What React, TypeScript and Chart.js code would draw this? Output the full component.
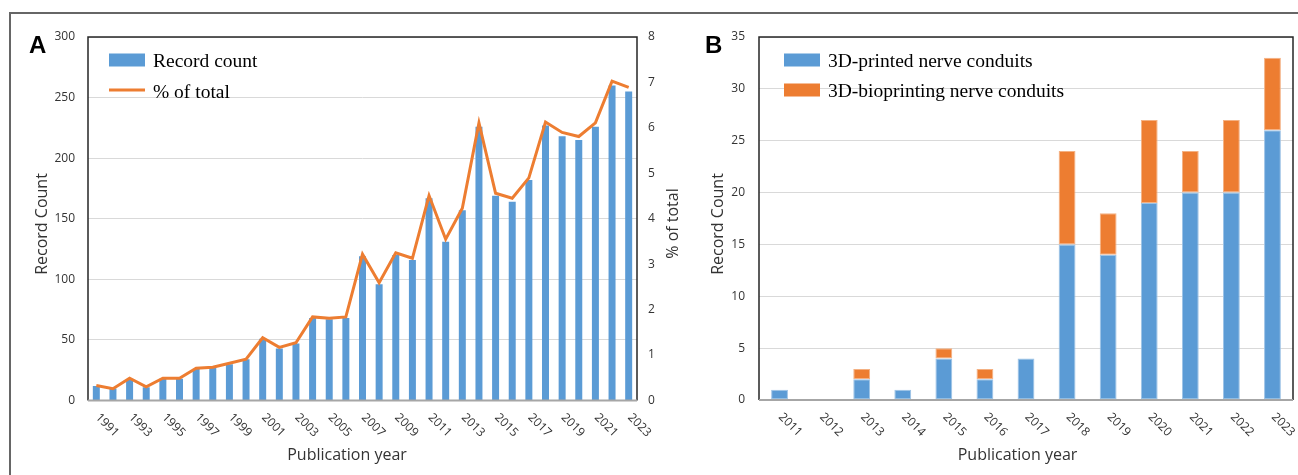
import React, { useEffect, useRef } from 'react';
import { Chart, registerables } from 'chart.js';

Chart.register(...registerables);

// ---------- Panel A data ----------
const yearsA = [
  '1991', '1992', '1993', '1994', '1995', '1996', '1997', '1998', '1999', '2000',
  '2001', '2002', '2003', '2004', '2005', '2006', '2007', '2008', '2009', '2010',
  '2011', '2012', '2013', '2014', '2015', '2016', '2017', '2018', '2019', '2020',
  '2021', '2022', '2023',
];
const recordCount = [
  12, 10, 17, 11, 18, 18, 26, 27, 30, 34,
  51, 43, 47, 68, 67, 68, 119, 96, 120, 116,
  167, 131, 157, 226, 169, 164, 182, 227, 218, 215,
  226, 260, 255,
];
const percentTotal = [
  0.33, 0.26, 0.49, 0.3, 0.49, 0.49, 0.71, 0.73, 0.82, 0.91,
  1.38, 1.17, 1.27, 1.84, 1.81, 1.84, 3.22, 2.59, 3.25, 3.13,
  4.51, 3.55, 4.23, 6.11, 4.56, 4.45, 4.9, 6.13, 5.9, 5.81,
  6.11, 7.03, 6.89,
];
const xTickLabelsA = [
  '1991', '1993', '1995', '1997', '1999', '2001', '2003', '2005', '2007',
  '2009', '2011', '2013', '2015', '2017', '2019', '2021', '2023',
];

// ---------- Panel B data ----------
const yearsB = ['2011', '2012', '2013', '2014', '2015', '2016', '2017', '2018', '2019', '2020', '2021', '2022', '2023'];
const printedConduits = [1, 0, 2, 1, 4, 2, 4, 15, 14, 19, 20, 20, 26];
const bioprintingConduits = [0, 0, 1, 0, 1, 1, 0, 9, 4, 8, 4, 7, 7];
const xTickLabelsB = yearsB;

const BLUE = '#5B9BD5';
const ORANGE = '#ED7D31';
const TEXT = '#333333';
const SANS = '"Open Sans", "Noto Sans", sans-serif';
const SERIF = '"Liberation Serif", "Times New Roman", serif';

type OverlayCfg = {
  id: string;
  letter: string;
  letterX: number;
  labels: string[];
  tickLabels: string[];
  yTitleX: number;
  y2TitleX?: number;
  xTitleX: number;
  legend: { kind: 'box' | 'line'; color: string; text: string; y: number; baseline: number }[];
  legendX: number;
};

function makeOverlay(cfg: OverlayCfg) {
  return {
    id: cfg.id,
    afterDraw(chart: any) {
      const { ctx, chartArea: a, scales } = chart;
      ctx.save();
      // plot frame
      ctx.strokeStyle = '#262626';
      ctx.lineWidth = 1.5;
      ctx.beginPath();
      ctx.moveTo(a.left, a.bottom);
      ctx.lineTo(a.left, a.top);
      ctx.lineTo(a.right, a.top);
      ctx.lineTo(a.right, a.bottom);
      ctx.stroke();
      ctx.strokeStyle = '#a6a6a6';
      ctx.lineWidth = 2;
      ctx.beginPath();
      ctx.moveTo(a.left, a.bottom);
      ctx.lineTo(a.right, a.bottom);
      ctx.stroke();

      // x tick labels, rotated clockwise
      ctx.fillStyle = TEXT;
      ctx.font = `12px ${SANS}`;
      ctx.textAlign = 'left';
      ctx.textBaseline = 'middle';
      const xs = scales.x;
      cfg.tickLabels.forEach((lab) => {
        const idx = cfg.labels.indexOf(lab);
        if (idx < 0) return;
        const px = xs.getPixelForValue(idx);
        ctx.save();
        ctx.translate(px + 1, a.bottom + 15);
        ctx.rotate(Math.PI / 4);
        ctx.fillText(lab, 0, 0);
        ctx.restore();
      });

      // axis titles
      ctx.font = `16px ${SANS}`;
      ctx.textAlign = 'center';
      ctx.textBaseline = 'alphabetic';
      ctx.fillText('Publication year', cfg.xTitleX, 460);
      const midY = 224;
      ctx.save();
      ctx.translate(cfg.yTitleX, midY);
      ctx.rotate(-Math.PI / 2);
      ctx.fillText('Record Count', 0, 0);
      ctx.restore();
      if (cfg.y2TitleX !== undefined) {
        ctx.save();
        ctx.translate(cfg.y2TitleX, 223.5);
        ctx.rotate(-Math.PI / 2);
        ctx.fillText('% of total', 0, 0);
        ctx.restore();
      }

      // legend
      ctx.textAlign = 'left';
      ctx.font = `19.5px ${SERIF}`;
      cfg.legend.forEach((item) => {
        if (item.kind === 'box') {
          ctx.fillStyle = item.color;
          ctx.fillRect(cfg.legendX, item.y - 6.5, 36, 13);
        } else {
          ctx.strokeStyle = item.color;
          ctx.lineWidth = 3;
          ctx.beginPath();
          ctx.moveTo(cfg.legendX, item.y);
          ctx.lineTo(cfg.legendX + 36, item.y);
          ctx.stroke();
        }
        ctx.fillStyle = '#000';
        ctx.fillText(item.text, cfg.legendX + 44, item.baseline);
      });

      // panel letter
      ctx.fillStyle = '#000';
      ctx.font = `bold 24px "Liberation Sans", Arial, sans-serif`;
      ctx.fillText(cfg.letter, cfg.letterX, 53);
      ctx.restore();
    },
  };
}

const tickFont = { family: SANS, size: 12 };

export default function App() {
  const refA = useRef<HTMLCanvasElement>(null);
  const refB = useRef<HTMLCanvasElement>(null);

  useEffect(() => {
    const chartA = new Chart(refA.current as HTMLCanvasElement, {
      type: 'bar',
      data: {
        labels: yearsA,
        datasets: [
          {
            type: 'line',
            label: '% of total',
            data: percentTotal,
            yAxisID: 'y1',
            borderColor: ORANGE,
            borderWidth: 3,
            pointRadius: 0,
            tension: 0,
            fill: false,
            order: 0,
          } as any,
          {
            type: 'bar',
            label: 'Record count',
            data: recordCount,
            yAxisID: 'y',
            backgroundColor: BLUE,
            barPercentage: 0.42,
            categoryPercentage: 1,
            order: 1,
          } as any,
        ],
      },
      options: {
        responsive: false,
        animation: false,
        devicePixelRatio: 1,
        layout: { padding: { top: 37, left: 0, right: 0, bottom: 0 } },
        plugins: { legend: { display: false }, tooltip: { enabled: false } },
        scales: {
          x: {
            grid: { display: false },
            border: { display: false },
            ticks: { display: false },
            afterFit: (s: any) => { s.height = 74.5; },
          },
          y: {
            position: 'left',
            min: 0,
            max: 300,
            ticks: { stepSize: 50, padding: 13, font: tickFont, color: TEXT },
            grid: { color: '#d9d9d9', lineWidth: 1, drawTicks: false },
            border: { display: false },
            afterFit: (s: any) => { s.width = 88; },
          },
          y1: {
            position: 'right',
            min: 0,
            max: 8,
            ticks: { stepSize: 1, padding: 11, font: tickFont, color: TEXT },
            grid: { display: false, drawTicks: false },
            border: { display: false },
            afterFit: (s: any) => { s.width = 53; },
          },
        },
      } as any,
      plugins: [
        makeOverlay({
          id: 'overlayA',
          letter: 'A',
          letterX: 29,
          labels: yearsA,
          tickLabels: xTickLabelsA,
          yTitleX: 47,
          y2TitleX: 678,
          xTitleX: 347,
          legendX: 109,
          legend: [
            { kind: 'box', color: BLUE, text: 'Record count', y: 60, baseline: 66.5 },
            { kind: 'line', color: ORANGE, text: '% of total', y: 90, baseline: 97.5 },
          ],
        }),
      ],
    });

    const chartB = new Chart(refB.current as HTMLCanvasElement, {
      type: 'bar',
      data: {
        labels: yearsB,
        datasets: [
          {
            label: '3D-printed nerve conduits',
            data: printedConduits,
            backgroundColor: BLUE,
            borderColor: '#9DC3E6',
            borderWidth: (c: any) => (c.raw ? 1 : 0),
            borderSkipped: false,
            barPercentage: 0.41,
            categoryPercentage: 1,
            stack: 's',
          } as any,
          {
            label: '3D-bioprinting nerve conduits',
            data: bioprintingConduits,
            backgroundColor: ORANGE,
            borderColor: '#F4B183',
            borderWidth: (c: any) => (c.raw ? 1 : 0),
            borderSkipped: false,
            barPercentage: 0.41,
            categoryPercentage: 1,
            stack: 's',
          } as any,
        ],
      },
      options: {
        responsive: false,
        animation: false,
        devicePixelRatio: 1,
        layout: { padding: { top: 37, left: 0, right: 5, bottom: 0 } },
        plugins: { legend: { display: false }, tooltip: { enabled: false } },
        scales: {
          x: {
            stacked: true,
            grid: { display: false },
            border: { display: false },
            ticks: { display: false },
            afterFit: (s: any) => { s.height = 75; },
          },
          y: {
            stacked: true,
            min: 0,
            max: 35,
            ticks: { stepSize: 5, padding: 14, font: tickFont, color: TEXT },
            grid: { color: '#d9d9d9', lineWidth: 1, drawTicks: false },
            border: { display: false },
            afterFit: (s: any) => { s.width = 69; },
          },
        },
      } as any,
      plugins: [
        makeOverlay({
          id: 'overlayB',
          letter: 'B',
          letterX: 15,
          labels: yearsB,
          tickLabels: xTickLabelsB,
          yTitleX: 33,
          xTitleX: 327.5,
          legendX: 94,
          legend: [
            { kind: 'box', color: BLUE, text: '3D-printed nerve conduits', y: 60, baseline: 66.5 },
            { kind: 'box', color: ORANGE, text: '3D-bioprinting nerve conduits', y: 90, baseline: 96.5 },
          ],
        }),
      ],
    });

    return () => {
      chartA.destroy();
      chartB.destroy();
    };
  }, []);

  return (
    <div style={{ position: 'absolute', left: 0, top: 0, width: 1298, height: 475, background: '#fff', overflow: 'hidden' }}>
      <div
        style={{
          position: 'absolute',
          left: 9,
          top: 12,
          width: 1300,
          height: 480,
          borderTop: '2px solid #666',
          borderLeft: '2px solid #666',
        }}
      />
      <canvas ref={refA} width={690} height={475} style={{ position: 'absolute', left: 0, top: 0 }} />
      <canvas ref={refB} width={608} height={475} style={{ position: 'absolute', left: 690, top: 0 }} />
    </div>
  );
}
